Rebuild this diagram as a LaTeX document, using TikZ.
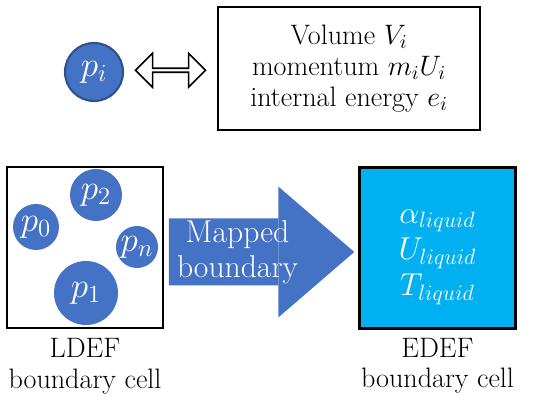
\RequirePackage{fix-cm}
\documentclass[tikz,border=0pt]{standalone}
\usepackage{amsmath}
\usepackage{xcolor}
\usepackage{tikz}
\usetikzlibrary{positioning, shapes.arrows, arrows.meta, calc}
\definecolor{bleudoux}{RGB}{68, 114, 196}
\definecolor{bleufonce}{RGB}{47, 82, 143}
\definecolor{cyanvif}{RGB}{0, 176, 240}

\begin{document}
\begin{tikzpicture}[font=\fontsize{16}{17.5}\selectfont,
    particule/.style={circle, fill=bleudoux, text=white, inner sep=0pt, font=\fontsize{20}{20}\selectfont},
    cellule/.style={draw, line width=1.1pt, minimum width=3.12cm, minimum height=3.22cm}]
    \useasboundingbox (0,0) rectangle (11,8.06);
    % particle and its properties
    \node[particule, draw=bleufonce, line width=1.2pt, minimum size=1.16cm] (pi) at (1.88,6.62) {$p_i$};
    \node[draw, line width=1pt, minimum width=5.24cm, minimum height=2.46cm, align=center] (props) at (6.98,6.69)
      {Volume $V_i$\\ momentum $m_iU_i$\\ internal energy $e_i$};
    \node[double arrow, draw, line width=0.9pt, fill=white, inner sep=0pt,
      minimum height=1.4cm, minimum width=0.68cm, double arrow head extend=0.12cm]
      (lien) at ($(pi.east)!0.5!(props.west)$) {};
    % LDEF cell
    \node[cellule] (ldef) at (1.70,3.11) {};
    \node[particule, minimum size=1.04cm] (p2) at (1.92,4.16) {$p_2$};
    \node[particule, minimum size=0.92cm] (p0) at (0.72,3.52) {$p_0$};
    \node[particule, minimum size=0.84cm] (pn) at (2.74,3.12) {$p_n$};
    \node[particule, minimum size=1.28cm] (p1) at (1.72,2.20) {$p_1$};
    \node[below=0.06cm of ldef, align=center] (ldeflabel) {LDEF\\boundary cell};
    % EDEF cell
    \node[cellule, line width=1.4pt, fill=cyanvif] (edef) at (8.75,3.10) {};
    \node[text=white, align=center, font=\fontsize{18}{20.5}\selectfont] (vars) at ([yshift=-0.18cm]edef.center)
      {$\alpha_{liquid}$\\ $U_{liquid}$\\ $T_{liquid}$};
    \node[below=0.04cm of edef, align=center] (edeflabel) {EDEF\\boundary cell};
    % mapping
    \draw[bleudoux, line width=1.34cm, -{Triangle[length=1.52cm, width=2.62cm, line width=0pt]}]
      ($(ldef.east)+(0.1,-0.09)$) -- ($(edef.west)+(-0.08,-0.08)$)
      node[pos=0.37, text=white, align=center, font=\fontsize{18}{20}\selectfont] (carte) {Mapped\\boundary};
\end{tikzpicture}
\end{document}
